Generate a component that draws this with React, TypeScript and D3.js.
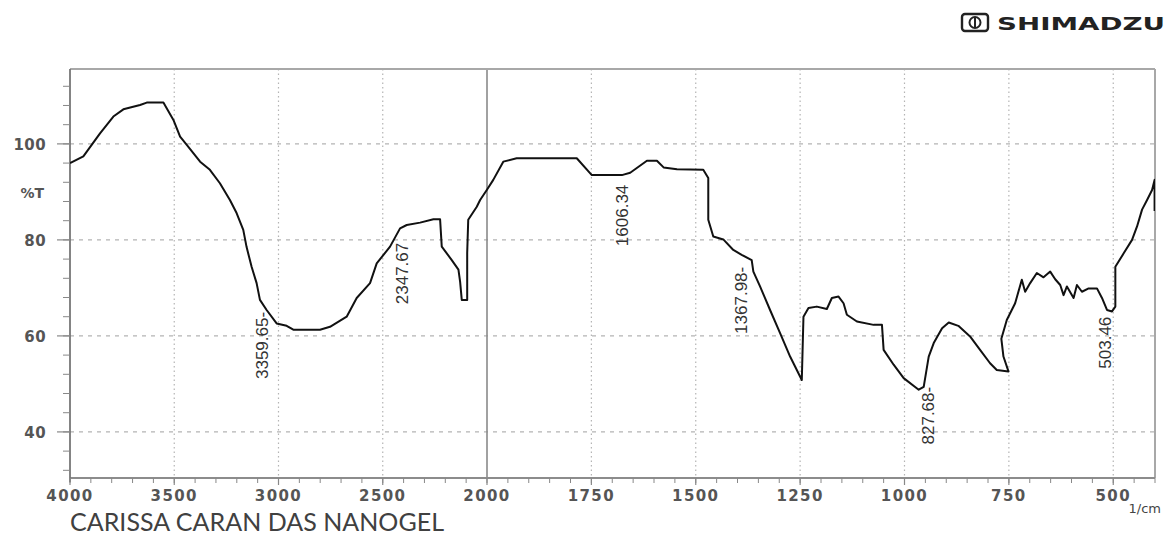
import * as d3 from "d3";
import React from "react";

// traced spectrum (1/cm, %T)
const wavenumbers = [
  4000, 3936, 3856, 3792, 3744, 3664, 3632, 3552, 3504, 3472, 3440, 3376, 3329, 3281, 3233, 3201,
  3169, 3153, 3129, 3105, 3089, 3057, 3009, 2961, 2929, 2801, 2753, 2673, 2625, 2561, 2529, 2465,
  2417, 2385, 2321, 2257, 2225, 2217, 2169, 2137, 2129, 2121, 2095, 2095, 2090, 2049, 2033, 2001,
  1985, 1961, 1929, 1785, 1749, 1677, 1657, 1617, 1593, 1577, 1545, 1482, 1470, 1470, 1458, 1434,
  1410, 1390, 1366, 1362, 1346, 1322, 1298, 1274, 1246, 1242, 1230, 1210, 1186, 1174, 1158, 1146,
  1138, 1114, 1074, 1054, 1050, 1026, 1002, 966, 954, 942, 930, 910, 894, 871, 843, 819,
  795, 779, 751, 763, 768, 755, 735, 719, 711, 699, 683, 667, 651, 639, 627, 619,
  611, 595, 587, 575, 559, 539, 527, 515, 503, 495, 495, 475, 455, 443, 431, 419,
  407, 401, 401,
];
const transmittance = [
  96.0, 97.4, 102.2, 105.7, 107.2, 108.1, 108.6, 108.6, 105.0, 101.5, 99.8, 96.3, 94.6, 91.8, 88.3, 85.6,
  82.1, 78.5, 74.4, 71.0, 67.5, 65.4, 62.6, 62.1, 61.3, 61.3, 61.9, 64.0, 67.9, 71.0, 75.1, 78.6,
  82.4, 83.1, 83.6, 84.3, 84.3, 78.6, 75.8, 73.8, 71.3, 67.5, 67.5, 77.3, 84.2, 86.9, 88.3, 90.4,
  92.5, 96.3, 97.0, 97.0, 93.5, 93.5, 94.0, 96.5, 96.5, 95.1, 94.7, 94.6, 92.9, 84.2, 80.7, 80.1,
  77.9, 76.9, 75.8, 73.4, 70.3, 65.4, 60.6, 55.7, 50.8, 64.0, 65.8, 66.1, 65.6, 67.9, 68.2, 66.8,
  64.4, 63.0, 62.3, 62.3, 57.1, 54.0, 51.2, 48.8, 49.4, 55.7, 58.5, 61.6, 62.8, 62.1, 59.9, 57.1,
  54.3, 52.9, 52.6, 55.7, 59.4, 63.3, 66.8, 71.7, 69.2, 71.0, 73.1, 72.2, 73.4, 71.8, 70.6, 68.5,
  70.3, 67.9, 70.6, 69.2, 69.9, 69.9, 67.9, 65.4, 65.1, 66.1, 74.4, 77.2, 80.0, 82.8, 86.3, 88.3,
  90.4, 92.5, 86.0,
];

// peak annotations: label, where it sits (1/cm), %T at its upper end
const peakLabels = ["3359.65-", "2347.67", "1606.34", "1367.98-", "827.68-", "503.46"];
const peakAt = [3079, 2408, 1676, 1391, 943, 519];
const peakTop = [65.0, 79.4, 91.5, 74.4, 49.4, 64.0];

const xTicks = [4000, 3500, 3000, 2500, 2000, 1750, 1500, 1250, 1000, 750, 500];
const xTickLabels = ["4000", "3500", "3000", "2500", "2000", "1750", "1500", "1250", "1000", "750", "500"];
const yTicks = [40, 60, 80, 100];
const yTickLabels = ["40", "60", "80", "100"];

export default function App() {
  const W = 1167, H = 544;
  const left = 70, right = 1155, top = 69, bottom = 478;

  // two-segment axis: 4000-2000 compressed, 2000-400 expanded
  const x = d3.scaleLinear().domain([4000, 2000, 400]).range([left, 487, right]);
  const y = d3.scaleLinear().domain([30.4, 115.6]).range([bottom, top]);

  const xMinor = [
    ...d3.range(4000, 2000, -100),
    ...d3.range(2000, 399, -50),
  ];
  const yMinor = d3.range(32, 116, 4);

  const line = d3.line<number>()
    .x((_, i) => x(wavenumbers[i]))
    .y((_, i) => y(transmittance[i]));

  const tickFont = "'DejaVu Sans', Verdana, sans-serif";

  return (
    <svg width={W} height={H} style={{ position: "absolute", left: 0, top: 0, background: "#fff" }}>
      <defs>
        <clipPath id="plot">
          <rect x={left} y={top} width={right - left} height={bottom - top} />
        </clipPath>
      </defs>

      {/* grid */}
      {yTicks.map(t => (
        <line key={"gy" + t} x1={left} x2={right} y1={y(t)} y2={y(t)}
          stroke="#b4b4b4" strokeWidth={1.2} strokeDasharray="4,5" />
      ))}
      {xTicks.filter(t => t !== 4000 && t !== 2000).map(t => (
        <line key={"gx" + t} x1={x(t)} x2={x(t)} y1={top} y2={bottom}
          stroke="#b4b4b4" strokeWidth={1.2} strokeDasharray="1.5,3" />
      ))}
      <line x1={x(2000)} x2={x(2000)} y1={top} y2={bottom} stroke="#8a8a8a" strokeWidth={1.6} />

      {/* frame */}
      <line x1={left} x2={right} y1={top} y2={top} stroke="#a8a8a8" strokeWidth={2} />
      <line x1={right} x2={right} y1={top} y2={bottom} stroke="#a8a8a8" strokeWidth={2} />
      <line x1={left} x2={right} y1={bottom} y2={bottom} stroke="#8c8c8c" strokeWidth={1.8} />
      <line x1={left} x2={left} y1={top} y2={bottom + 4} stroke="#777" strokeWidth={1.8} />

      {/* ticks */}
      {yMinor.map(t => (
        <line key={"ym" + t} x1={left - 7} x2={left} y1={y(t)} y2={y(t)} stroke="#888" strokeWidth={1} />
      ))}
      {yTicks.map(t => (
        <line key={"yM" + t} x1={left - 13} x2={left} y1={y(t)} y2={y(t)} stroke="#888" strokeWidth={1.2} />
      ))}
      {xMinor.map(t => (
        <line key={"xm" + t} x1={x(t)} x2={x(t)} y1={bottom} y2={bottom + 5} stroke="#888" strokeWidth={1} />
      ))}
      {xTicks.map(t => (
        <line key={"xM" + t} x1={x(t)} x2={x(t)} y1={bottom} y2={bottom + 7} stroke="#888" strokeWidth={1.2} />
      ))}

      {/* tick labels */}
      {yTicks.map((t, i) => (
        <text key={"yl" + t} x={46} y={y(t) + 6} textAnchor="end" fontFamily={tickFont}
          fontSize={15} fontWeight="bold" fill="#555" letterSpacing={0.4}>{yTickLabels[i]}</text>
      ))}
      <text x={44} y={198} textAnchor="end" fontFamily={tickFont} fontSize={14} fontWeight="bold" fill="#555">%T</text>
      {xTicks.map((t, i) => (
        <text key={"xl" + t} x={x(t)} y={501} textAnchor="middle" fontFamily={tickFont}
          fontSize={15} fontWeight="bold" fill="#555" letterSpacing={1.4}>{xTickLabels[i]}</text>
      ))}
      <text x={1161} y={513} textAnchor="end" fontFamily={tickFont} fontSize={13} fill="#444">1/cm</text>

      {/* spectrum */}
      <path d={line(wavenumbers) ?? ""} fill="none" stroke="#111" strokeWidth={2}
        strokeLinejoin="round" clipPath="url(#plot)" />

      {/* peak labels */}
      {peakLabels.map((s, i) => (
        <text key={s} transform={`translate(${x(peakAt[i]) + 6},${y(peakTop[i])}) rotate(-90)`}
          textAnchor="end" fontFamily="'Liberation Sans', Arial, sans-serif" fontSize={17} fill="#333">{s}</text>
      ))}

      {/* title */}
      <text x={70} y={531} fontFamily="Lato, 'Open Sans', sans-serif" fontSize={25} fill="#404040"
        textLength={374} lengthAdjust="spacing">CARISSA CARAN DAS NANOGEL</text>

      {/* maker logo */}
      <g>
        <rect x={962} y={14} width={26} height={17} rx={3} fill="none" stroke="#222" strokeWidth={2.4} />
        <circle cx={975} cy={22.5} r={5.5} fill="none" stroke="#222" strokeWidth={2} />
        <line x1={975} x2={975} y1={17} y2={28} stroke="#222" strokeWidth={2} />
        <text x={997} y={30} fontFamily="'DejaVu Sans', sans-serif" fontWeight="bold" fontSize={18}
          fill="#222" textLength={168} lengthAdjust="spacingAndGlyphs">SHIMADZU</text>
      </g>
    </svg>
  );
}
